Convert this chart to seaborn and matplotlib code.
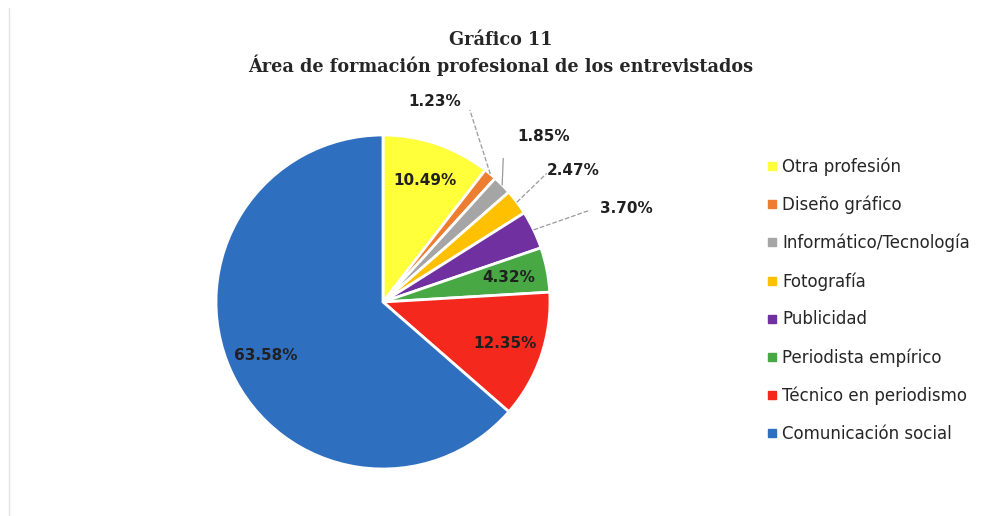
import matplotlib
matplotlib.use("Agg")
import matplotlib.pyplot as plt
from matplotlib.lines import Line2D
import seaborn as sns
import numpy as np

# Data
categorias = ["Otra profesión", "Diseño gráfico", "Informático/Tecnología", "Fotografía",
              "Publicidad", "Periodista empírico", "Técnico en periodismo", "Comunicación social"]
porcentajes = [10.49, 1.23, 1.85, 2.47, 3.70, 4.32, 12.35, 63.58]
colores = ["#FFFF3A", "#ED7D31", "#A5A5A5", "#FFC000", "#7030A0", "#48A844", "#F5281E", "#2F6FBF"]

sns.set_theme(style="white")
plt.rcParams["font.family"] = ["DejaVu Sans"]
palette = sns.color_palette(colores)

fig = plt.figure(figsize=(9.85, 5.16), dpi=100)
W, H = 985, 516

# pie geometry in pixels (centre, radius) -> axes rectangle
cx, cy, R, lim = 383, 302, 167, 1.5
ax = fig.add_axes([(cx - lim * R) / W, (H - cy - lim * R) / H, 2 * lim * R / W, 2 * lim * R / H])

wedges, _ = ax.pie(porcentajes, colors=palette, startangle=90, counterclock=False,
                   wedgeprops=dict(edgecolor="white", linewidth=2))
ax.set_xlim(-lim, lim)
ax.set_ylim(-lim, lim)
ax.set_aspect("equal")
ax.axis("off")

# labels inside the big slices, along the mid angle
for w, v in zip(wedges, porcentajes):
    ang = np.deg2rad((w.theta1 + w.theta2) / 2)
    if v >= 4:
        ax.text(0.77 * np.cos(ang), 0.77 * np.sin(ang), f"{v:.2f}%", ha="center", va="center",
                fontsize=11, fontweight="bold", color="#202020")

# labels outside the small slices with leader lines
fuera = {1: ((0.31, 1.20), (0.52, 1.15), "--"),
         2: ((0.96, 0.99), (0.72, 0.86), "-"),
         3: ((1.14, 0.79), (0.98, 0.77), "--"),
         4: ((1.46, 0.56), (1.24, 0.55), "--")}
for i, (pos, fin, ls) in fuera.items():
    w = wedges[i]
    ang = np.deg2rad((w.theta1 + w.theta2) / 2)
    ax.plot([np.cos(ang), fin[0]], [np.sin(ang), fin[1]], ls=ls, color="#9a9a9a", lw=0.9, clip_on=False)
    ax.text(pos[0], pos[1], f"{porcentajes[i]:.2f}%", ha="center", va="center",
            fontsize=11, fontweight="bold", color="#202020")

# title
fig.text(0.508, 1 - 40 / H, "Gráfico 11", ha="center", va="center", fontsize=12.7,
         fontweight="bold", family=["DejaVu Serif"])
fig.text(0.508, 1 - 65 / H, "Área de formación profesional de los entrevistados", ha="center",
         va="center", fontsize=12.7, fontweight="bold", family=["DejaVu Serif"])

# legend
handles = [Line2D([], [], marker="s", ls="", markersize=6, color=c) for c in palette]
fig.legend(handles, categorias, loc="center left", bbox_to_anchor=(0.7635, 1 - 300 / H),
           frameon=False, fontsize=12, labelspacing=1.19, handlelength=0.6, handletextpad=0.3)

# faint chart border at the left
fig.add_artist(Line2D([9 / W, 9 / W], [0, 1 - 8 / H], color="#e2e2e2", lw=1))

fig.savefig("out.png", dpi=100, facecolor="white")
